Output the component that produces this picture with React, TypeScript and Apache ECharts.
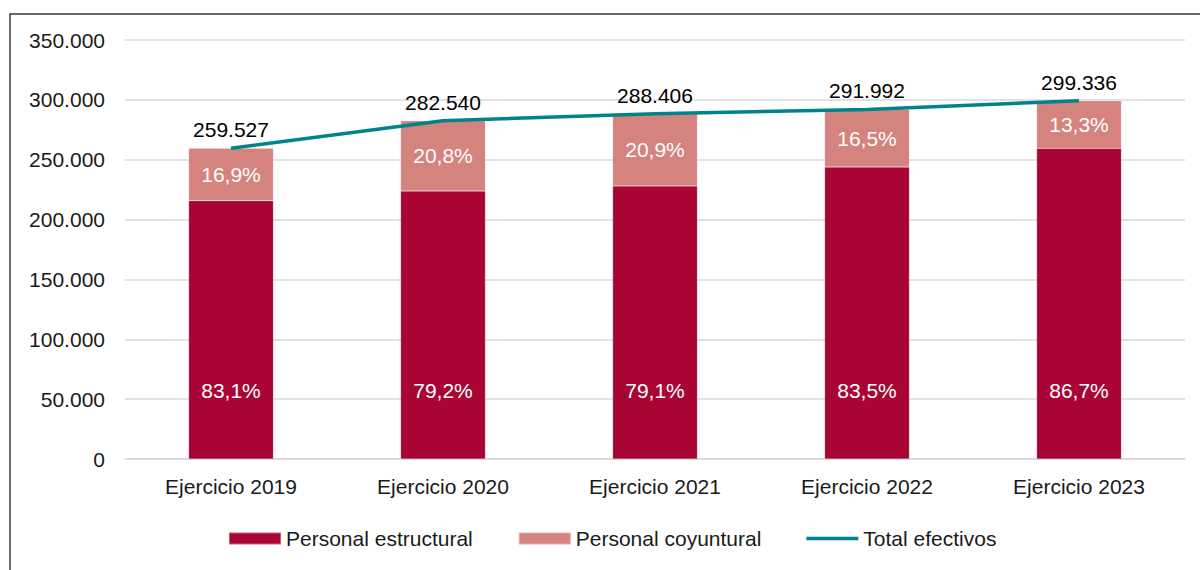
import React, { useEffect, useRef } from "react";
import * as echarts from "echarts";

const categories = ["Ejercicio 2019", "Ejercicio 2020", "Ejercicio 2021", "Ejercicio 2022", "Ejercicio 2023"];
const estructural = [215667, 223772, 228129, 243813, 259524];
const coyuntural = [43860, 58768, 60277, 48179, 39812];
const totales = [259527, 282540, 288406, 291992, 299336];
const pctEstructural = ["83,1%", "79,2%", "79,1%", "83,5%", "86,7%"];
const pctCoyuntural = ["16,9%", "20,8%", "20,9%", "16,5%", "13,3%"];
const totalLabels = ["259.527", "282.540", "288.406", "291.992", "299.336"];

const FONT = "Liberation Sans, Arial, sans-serif";
const FS = 21;

const fmt = (v: number) => String(v).replace(/\B(?=(\d{3})+(?!\d))/g, ".");

export default function App() {
  const ref = useRef<HTMLDivElement>(null);
  useEffect(() => {
    if (!ref.current) return;
    const chart = echarts.init(ref.current, undefined, { renderer: "svg" });
    chart.setOption({
      animation: false,
      backgroundColor: "#ffffff",
      textStyle: { fontFamily: FONT },
      grid: { left: 125, right: 15, top: 40, bottom: 111, containLabel: false },
      graphic: [
        {
          type: "rect",
          shape: { x: 10, y: 14, width: 1220, height: 600 },
          style: { fill: "none", stroke: "#3a3a3a", lineWidth: 1.5 },
          z: 100,
          silent: true,
        },
      ],
      legend: {
        bottom: 21,
        left: 228,
        padding: 0,
        itemWidth: 52,
        itemHeight: 12,
        itemGap: 45,
        textStyle: { fontSize: FS, color: "#1a1a1a", fontFamily: FONT },
        data: [
          { name: "Personal estructural", icon: "rect" },
          { name: "Personal coyuntural", icon: "rect" },
          {
            name: "Total efectivos",
            icon: "path://M0,0 L0,0 M0,4.2 L52,4.2 L52,7.8 L0,7.8 Z M52,12 L52,12",
          },
        ],
      },
      xAxis: {
        type: "category",
        data: categories,
        axisLine: { show: true, lineStyle: { color: "#d9d9d9", width: 1.5 } },
        axisTick: { show: false },
        axisLabel: { fontSize: FS, color: "#1a1a1a", margin: 17, fontFamily: FONT },
      },
      yAxis: {
        type: "value",
        min: 0,
        max: 350000,
        interval: 50000,
        axisLine: { show: false },
        axisTick: { show: false },
        splitLine: { lineStyle: { color: "#d9d9d9", width: 1.5 } },
        axisLabel: {
          fontSize: FS,
          color: "#1a1a1a",
          margin: 20,
          fontFamily: FONT,
          formatter: (v: number) => fmt(v),
        },
      },
      series: [
        {
          name: "Personal estructural",
          type: "bar",
          stack: "t",
          barWidth: "40%",
          data: estructural,
          itemStyle: { color: "#A80535", borderColor: "rgba(255,255,255,0.35)", borderWidth: 0.5 },
          label: {
            show: true,
            position: "insideBottom",
            distance: 58,
            color: "#ffffff",
            fontSize: FS,
            fontFamily: FONT,
            formatter: (p: any) => pctEstructural[p.dataIndex],
          },
        },
        {
          name: "Personal coyuntural",
          type: "bar",
          stack: "t",
          barWidth: "40%",
          data: coyuntural,
          itemStyle: { color: "#D4837E", borderColor: "rgba(255,255,255,0.35)", borderWidth: 0.5 },
          label: {
            show: true,
            position: "inside",
            color: "#ffffff",
            fontSize: FS,
            fontFamily: FONT,
            formatter: (p: any) => pctCoyuntural[p.dataIndex],
          },
        },
        {
          name: "Total efectivos",
          type: "line",
          data: totales,
          symbol: "circle",
          symbolSize: 0,
          showSymbol: true,
          lineStyle: { color: "#00838A", width: 3.5 },
          itemStyle: { color: "#00838A" },
          z: 5,
          label: {
            show: true,
            position: "top",
            distance: 8,
            color: "#000000",
            fontSize: FS,
            fontFamily: FONT,
            formatter: (p: any) => totalLabels[p.dataIndex],
          },
        },
      ],
    });
    return () => chart.dispose();
  }, []);
  return (
    <div
      ref={ref}
      style={{ position: "fixed", left: 0, top: 0, width: 1200, height: 570, background: "#fff" }}
    />
  );
}
